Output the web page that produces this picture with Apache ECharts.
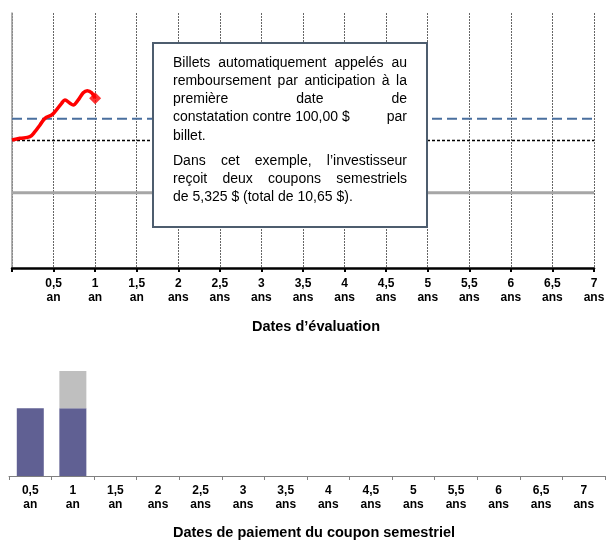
<!DOCTYPE html>
<html><head><meta charset="utf-8">
<script src="https://cdn.jsdelivr.net/npm/echarts@6/dist/echarts.min.js"></script>
<style>html,body{margin:0;padding:0;background:#fff}#c{width:608px;height:541px}</style>
</head><body><div id="c"></div>
<script>
// ---- data ----
const evalTickLabels = ['', '0,5\nan', '1\nan', '1,5\nan', '2\nans', '2,5\nans', '3\nans', '3,5\nans', '4\nans', '4,5\nans', '5\nans', '5,5\nans', '6\nans', '6,5\nans', '7\nans'];
const payCategories = ['0,5\nan', '1\nan', '1,5\nan', '2\nans', '2,5\nans', '3\nans', '3,5\nans', '4\nans', '4,5\nans', '5\nans', '5,5\nans', '6\nans', '6,5\nans', '7\nans'];
const pathYears  = [0, 0.096, 0.216, 0.276, 0.337, 0.397, 0.477, 0.517, 0.597, 0.637, 0.697, 0.737, 0.797, 0.857, 0.905, 0.958, 1.0];
const pathValues = [100.4, 101.7, 103, 106.9, 112.2, 117.4, 120, 122.6, 129.2, 131.8, 129.2, 127.8, 131.8, 137.5, 139.1, 137.5, 133.1];
const initialLevel = 100;
const callBarrier = 117;
const lowerBarrier = 59;
const couponValues    = [5.325, 5.325, null, null, null, null, null, null, null, null, null, null, null, null];
const principalValues = [null, 2.95, null, null, null, null, null, null, null, null, null, null, null, null];
const boxLines = [
  {parts: ['Billets', 'automatiquement', 'appelés', 'au'], justify: true},
  {parts: ['remboursement', 'par', 'anticipation', 'à', 'la'], justify: true},
  {parts: ['première', 'date', 'de'], justify: true},
  {parts: ['constatation contre 100,00 $', 'par'], justify: true},
  {parts: ['billet.'], justify: false},
  {parts: ['Dans', 'cet', 'exemple,', 'l\u2019investisseur'], justify: true, para: true},
  {parts: ['reçoit', 'deux', 'coupons', 'semestriels'], justify: true},
  {parts: ['de 5,325 $ (total de 10,65 $).'], justify: false}
];
const topAxisName = 'Dates d\u2019évaluation';
const bottomAxisName = 'Dates de paiement du coupon semestriel';

// ---- layout ----
const FAMILY = '"Liberation Sans", Arial, sans-serif';
const TEXT_LEFT = 173, TEXT_RIGHT = 407;
const ctx = document.createElement('canvas').getContext('2d');
ctx.font = '14px ' + FAMILY;
const textEls = [];
let ty = 63;
boxLines.forEach((line, idx) => {
  if (idx > 0) ty += line.para ? 25 : 18.2;
  const st = (t, x) => ({type: 'text', x: x, y: ty, z: 101,
    style: {text: t, font: '14px ' + FAMILY, fill: '#000', verticalAlign: 'middle', align: 'left'}});
  if (line.justify && line.parts.length > 1) {
    const w = line.parts.map(p => ctx.measureText(p).width);
    const total = w.reduce((a, b) => a + b, 0);
    const gap = (TEXT_RIGHT - TEXT_LEFT - total) / (line.parts.length - 1);
    let x = TEXT_LEFT;
    line.parts.forEach((p, i) => { textEls.push(st(p, x)); x += w[i] + gap; });
  } else {
    textEls.push(st(line.parts.join(' '), TEXT_LEFT));
  }
});

const labelStyle = {color: '#000', fontWeight: 'bold', fontSize: 12, lineHeight: 14, fontFamily: FAMILY};
const hline = (v, color, width, type, z) => ({
  type: 'line', xAxisIndex: 0, yAxisIndex: 0, data: [[0, v], [7, v]], symbol: 'none', silent: true, z: z,
  lineStyle: {color: color, width: width, type: type}
});

const chart = echarts.init(document.getElementById('c'), null, {renderer: 'canvas'});
chart.setOption({
  animation: false,
  backgroundColor: '#fff',
  grid: [
    {left: 12, right: 14, top: 13, bottom: 273},
    {left: 9, right: 3, top: 349, bottom: 65}
  ],
  xAxis: [
    {gridIndex: 0, type: 'value', min: 0, max: 7, interval: 0.5,
     axisLine: {show: true, onZero: false, lineStyle: {color: '#000', width: 2.5}},
     axisTick: {show: true, length: 4, lineStyle: {color: '#000', width: 2}},
     axisLabel: Object.assign({margin: 9, formatter: v => evalTickLabels[Math.round(v / 0.5)] || ''}, labelStyle),
     splitLine: {show: true, lineStyle: {color: '#666', type: [2, 1], width: 1}}},
    {gridIndex: 1, type: 'category', data: payCategories, boundaryGap: true,
     axisLine: {show: true, lineStyle: {color: '#808080', width: 1}},
     axisTick: {show: true, length: 4, lineStyle: {color: '#808080', width: 1}},
     axisLabel: Object.assign({margin: 8, interval: 0}, labelStyle),
     splitLine: {show: false}}
  ],
  yAxis: [
    {gridIndex: 0, type: 'value', min: 0, max: 200,
     axisLine: {show: true, lineStyle: {color: '#999', width: 1.5}},
     axisTick: {show: false}, axisLabel: {show: false}, splitLine: {show: false}},
    {gridIndex: 1, type: 'value', min: 0, max: 10, show: false, splitLine: {show: false}}
  ],
  series: [
    hline(lowerBarrier, '#a6a6a6', 3, 'solid', 2),
    hline(initialLevel, '#000', 1.5, [3, 2], 3),
    hline(callBarrier, '#4a6f9e', 2, [10, 5], 4),
    {type: 'line', xAxisIndex: 0, yAxisIndex: 0, z: 5,
     data: pathYears.map((x, i) => [x, pathValues[i]]),
     smooth: 0.35, showSymbol: false, symbol: 'none',
     lineStyle: {color: '#ff0000', width: 3.5}},
    {type: 'scatter', xAxisIndex: 0, yAxisIndex: 0, z: 6,
     data: [[pathYears[pathYears.length - 1], pathValues[pathValues.length - 1]]],
     symbol: 'diamond', symbolSize: 12, itemStyle: {color: '#ff0000'}},
    {type: 'bar', xAxisIndex: 1, yAxisIndex: 1, stack: 'pay', data: couponValues, barWidth: 27,
     itemStyle: {color: '#606093'}},
    {type: 'bar', xAxisIndex: 1, yAxisIndex: 1, stack: 'pay', data: principalValues, barWidth: 27,
     itemStyle: {color: '#bfbfbf'}}
  ],
  graphic: [
    {type: 'rect', z: 100, shape: {x: 153, y: 43, width: 274, height: 184},
     style: {fill: '#fff', stroke: '#4d5d6e', lineWidth: 2}},
    ...textEls,
    {type: 'text', x: 316, y: 327, z: 100,
     style: {text: topAxisName, font: 'bold 14.5px ' + FAMILY, fill: '#000', align: 'center', verticalAlign: 'middle'}},
    {type: 'text', x: 314, y: 533, z: 100,
     style: {text: bottomAxisName, font: 'bold 14.5px ' + FAMILY, fill: '#000', align: 'center', verticalAlign: 'middle'}}
  ]
});
</script></body></html>
